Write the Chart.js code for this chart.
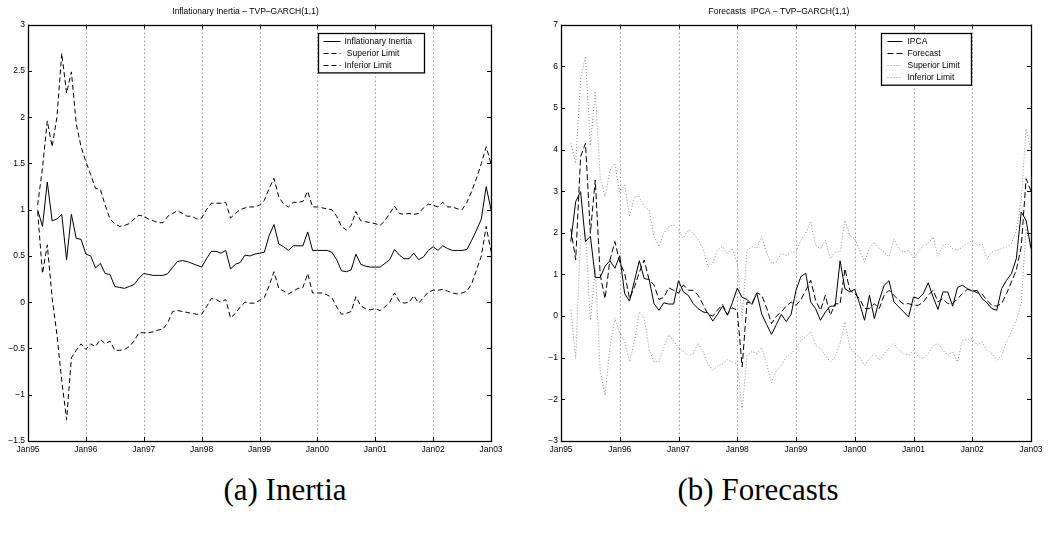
<!DOCTYPE html>
<html>
<head>
<meta charset="utf-8">
<script src="https://cdn.jsdelivr.net/npm/chart.js@4.4.0/dist/chart.umd.min.js"></script>
<style>
    body { margin: 0; background: #fff; width: 1054px; height: 533px; position: relative; overflow: hidden; }
    .painel { position: absolute; top: 0; width: 527px; height: 470px; }
    #painelInercia { left: 0; }
    #painelPrevisao { left: 527px; }
    .legenda {
        position: absolute; top: 471px; height: 38px; line-height: 38px;
        font-family: "Liberation Serif", serif; font-size: 31px; color: #000;
        text-align: center; width: 300px;
    }
    #legendaA { left: 135px; }
    #legendaB { left: 608px; }
</style>
</head>
<body>
<div class="painel" id="painelInercia"><canvas id="chartInercia"></canvas></div>
<div class="painel" id="painelPrevisao"><canvas id="chartPrevisao"></canvas></div>
<div class="legenda" id="legendaA">(a) Inertia</div>
<div class="legenda" id="legendaB">(b) Forecasts</div>

<script>
// meses contados a partir de Jan95 (0) ate Jan03 (96); as series comecam em Mar95
const PRIMEIRO_MES = 2;
const rotulosX = ['Jan95', 'Jan96', 'Jan97', 'Jan98', 'Jan99', 'Jan00', 'Jan01', 'Jan02', 'Jan03'];

// painel (a) - inercia inflacionaria
const inercia = [
    1.00, 0.82, 1.30, 0.88, 0.90, 0.95, 0.46, 0.95, 0.69, 0.68,
    0.52, 0.50, 0.37, 0.42, 0.31, 0.30, 0.17, 0.16, 0.15, 0.17, 0.19, 0.26,
    0.31, 0.30, 0.29, 0.29, 0.29, 0.31, 0.38, 0.44, 0.45, 0.44, 0.42, 0.40,
    0.38, 0.47, 0.55, 0.55, 0.53, 0.56, 0.36, 0.41, 0.43, 0.51, 0.50, 0.52,
    0.53, 0.54, 0.72, 0.84, 0.63, 0.60, 0.56, 0.61, 0.61, 0.61, 0.76, 0.56,
    0.56, 0.56, 0.56, 0.54, 0.46, 0.34, 0.33, 0.35, 0.52, 0.41, 0.39, 0.38,
    0.38, 0.38, 0.42, 0.46, 0.57, 0.51, 0.47, 0.47, 0.53, 0.46, 0.49, 0.56,
    0.60, 0.56, 0.61, 0.58, 0.56, 0.56, 0.56, 0.57, 0.67, 0.78, 0.90, 1.25,
    1.00
];
const inerciaSup = [
    1.05, 1.45, 1.96, 1.68, 2.00, 2.69, 2.26, 2.49, 1.93, 1.68,
    1.52, 1.38, 1.23, 1.22, 1.05, 0.90, 0.85, 0.82, 0.83, 0.85, 0.90, 0.94,
    0.93, 0.90, 0.88, 0.86, 0.86, 0.93, 0.96, 0.99, 0.96, 0.93, 0.93, 0.90,
    0.91, 1.00, 1.07, 1.07, 1.07, 1.08, 0.91, 0.96, 1.00, 1.02, 1.03, 1.03,
    1.05, 1.10, 1.23, 1.34, 1.14, 1.06, 1.03, 1.08, 1.08, 1.09, 1.20, 1.03,
    1.03, 1.02, 1.01, 1.00, 0.93, 0.82, 0.78, 0.83, 0.98, 0.88, 0.87, 0.86,
    0.85, 0.83, 0.88, 0.96, 1.04, 0.96, 0.95, 0.96, 0.95, 0.96, 1.02, 1.06,
    1.05, 1.03, 1.08, 1.03, 1.03, 1.01, 1.00, 1.08, 1.20, 1.34, 1.50, 1.68,
    1.50
];
const inerciaInf = [
    0.98, 0.31, 0.62, 0.05, -0.35, -0.85, -1.27, -0.60, -0.52, -0.45,
    -0.51, -0.45, -0.48, -0.40, -0.45, -0.42, -0.52, -0.52, -0.51, -0.48, -0.42, -0.33,
    -0.33, -0.33, -0.32, -0.30, -0.29, -0.22, -0.10, -0.09, -0.10, -0.11, -0.12, -0.13,
    -0.13, -0.05, 0.04, 0.03, 0.00, 0.03, -0.17, -0.12, -0.05, 0.00, -0.01, -0.01,
    0.02, 0.05, 0.18, 0.33, 0.15, 0.12, 0.09, 0.12, 0.15, 0.16, 0.31, 0.10,
    0.10, 0.10, 0.08, 0.05, -0.05, -0.13, -0.12, -0.10, 0.06, -0.04, -0.07, -0.08,
    -0.07, -0.09, -0.05, 0.00, 0.10, 0.01, -0.01, 0.00, 0.07, -0.01, 0.05, 0.11,
    0.13, 0.13, 0.14, 0.12, 0.10, 0.09, 0.10, 0.12, 0.20, 0.35, 0.50, 0.82,
    0.55
];

// painel (b) - IPCA e previsoes
const ipca = [
    1.79, 2.75, 2.99, 1.79, 1.92, 0.93, 0.93, 1.20, 1.33, 1.15,
    1.45, 0.54, 0.36, 0.85, 1.33, 0.90, 0.88, 0.30, 0.14, 0.32, 0.29, 0.29,
    0.85, 0.58, 0.50, 0.30, 0.18, 0.10, 0.08, -0.12, 0.05, 0.24, 0.02, 0.32,
    0.67, 0.45, 0.40, 0.28, 0.55, 0.05, -0.20, -0.44, -0.20, 0.04, -0.13, 0.04,
    0.62, 0.95, 1.03, 0.34, 0.18, -0.10, 0.10, 0.24, 0.24, 1.33, 0.66, 0.58,
    0.64, 0.30, -0.10, 0.50, -0.06, 0.38, 0.74, 0.85, 0.34, 0.22, 0.10, -0.02,
    0.46, 0.42, 0.54, 0.80, 0.46, 0.16, 0.58, 0.58, 0.24, 0.69, 0.74, 0.66,
    0.60, 0.62, 0.42, 0.32, 0.18, 0.14, 0.66, 0.86, 1.02, 1.38, 2.50, 2.30,
    1.62
];
const previsao = [
    2.10, 1.35, 3.83, 4.15, 1.99, 3.27, 1.00, 0.42, 1.35, 1.79,
    1.30, 1.03, 0.42, 0.70, 1.05, 1.35, 0.87, 0.75, 0.40, 0.45, 0.68, 0.62,
    0.55, 0.75, 0.62, 0.62, 0.50, 0.28, 0.05, 0.00, 0.15, 0.28, 0.04, 0.20,
    0.14, -1.22, 0.34, 0.30, 0.56, 0.50, 0.20, -0.18, 0.00, 0.10, 0.24, 0.34,
    0.26, 0.40, 0.62, 0.86, 0.38, 0.14, 0.50, 0.02, 0.30, 0.29, 1.14, 0.62,
    0.54, 0.42, 0.18, 0.18, 0.30, 0.18, 0.50, 0.62, 0.50, 0.38, 0.29, 0.30,
    0.26, 0.26, 0.34, 0.50, 0.62, 0.34, 0.42, 0.30, 0.30, 0.42, 0.54, 0.64,
    0.62, 0.56, 0.53, 0.38, 0.26, 0.24, 0.30, 0.54, 0.82, 1.10, 1.66, 3.30,
    3.00
];
const previsaoSup = [
    4.15, 3.67, 5.70, 6.24, 4.10, 5.40, 3.35, 2.87, 3.50, 3.67,
    2.95, 3.15, 2.39, 2.87, 2.87, 2.63, 2.55, 1.91, 1.67, 1.99, 2.15, 2.19,
    2.07, 1.87, 2.07, 1.99, 1.83, 1.63, 1.19, 1.27, 1.59, 1.67, 1.51, 1.63,
    1.27, -0.05, 1.59, 1.67, 1.63, 1.91, 1.51, 1.27, 1.31, 1.51, 1.46, 1.54,
    1.54, 1.82, 2.00, 2.26, 1.70, 1.62, 1.82, 1.38, 1.54, 1.54, 2.30, 1.94,
    1.86, 1.58, 1.30, 1.62, 1.78, 1.62, 1.54, 1.42, 1.86, 1.62, 1.54, 1.58,
    1.38, 1.54, 1.70, 1.74, 1.90, 1.44, 1.70, 1.74, 1.62, 1.58, 1.66, 1.74,
    1.82, 1.70, 1.74, 1.38, 1.54, 1.58, 1.62, 1.66, 1.74, 2.06, 2.80, 4.50,
    4.00
];
const previsaoInf = [
    0.15, -1.02, 1.95, 2.00, -0.10, 1.15, -1.30, -1.90, -0.75, -0.05,
    -0.40, -0.60, -1.10, -0.60, 0.10, -0.05, -0.80, -1.10, -1.10, -0.75, -0.45, -0.60,
    -0.75, -0.85, -0.95, -0.90, -0.65, -0.85, -1.15, -1.30, -1.20, -1.15, -1.05, -1.10,
    -1.15, -2.25, -0.95, -0.85, -0.90, -0.75, -1.15, -1.60, -1.30, -1.20, -0.98, -0.90,
    -0.78, -0.58, -0.50, -0.38, -0.70, -0.78, -0.94, -1.10, -0.98, -0.66, -0.14, -0.74,
    -0.90, -0.98, -1.18, -1.02, -0.90, -1.06, -0.90, -0.78, -0.66, -0.82, -0.90, -0.94,
    -0.82, -0.98, -1.02, -0.90, -0.70, -0.66, -0.82, -0.94, -0.86, -1.10, -0.58, -0.56,
    -0.54, -0.70, -0.62, -0.82, -0.90, -1.06, -0.94, -0.62, -0.38, -0.10, 0.30, 2.10,
    1.60
];

const FONTE = '"Liberation Sans", Arial, sans-serif';

function pontos(serie) {
    return serie.map((v, i) => ({ x: PRIMEIRO_MES + i, y: v }));
}

// grade vertical pontilhada nos meses de janeiro
const gradePontilhada = {
    id: 'gradePontilhada',
    beforeDatasetsDraw(chart) {
        const ctx = chart.ctx;
        const a = chart.chartArea;
        const sx = chart.scales.x;
        ctx.save();
        ctx.strokeStyle = '#6e6e6e';
        ctx.lineWidth = 1;
        ctx.setLineDash([1, 3]);
        ctx.beginPath();
        sx.ticks.forEach(t => {
            const px = Math.round(sx.getPixelForValue(t.value)) + 0.5;
            ctx.moveTo(px, a.top);
            ctx.lineTo(px, a.bottom);
        });
        ctx.stroke();
        ctx.restore();
    }
};

// moldura preta com marcas de escala para dentro, como no matlab
const molduraMatlab = {
    id: 'molduraMatlab',
    afterDatasetsDraw(chart) {
        const ctx = chart.ctx;
        const a = chart.chartArea;
        const sx = chart.scales.x;
        const sy = chart.scales.y;
        ctx.save();
        ctx.strokeStyle = '#000';
        ctx.lineWidth = 1;
        ctx.beginPath();
        sx.ticks.forEach(t => {
            const px = Math.round(sx.getPixelForValue(t.value)) + 0.5;
            ctx.moveTo(px, a.bottom); ctx.lineTo(px, a.bottom - 4);
            ctx.moveTo(px, a.top); ctx.lineTo(px, a.top + 4);
        });
        sy.ticks.forEach(t => {
            const py = Math.round(sy.getPixelForValue(t.value)) + 0.5;
            ctx.moveTo(a.left, py); ctx.lineTo(a.left + 4, py);
            ctx.moveTo(a.right, py); ctx.lineTo(a.right - 4, py);
        });
        ctx.stroke();
        ctx.lineWidth = 1.3;
        ctx.strokeRect(Math.round(a.left) + 0.5, Math.round(a.top) + 0.5,
            Math.round(a.right - a.left), Math.round(a.bottom - a.top));
        ctx.restore();
    }
};

// caixa de legenda dentro da area do grafico
const legendaMatlab = {
    id: 'legendaMatlab',
    afterDraw(chart, args, opts) {
        const ctx = chart.ctx;
        const a = chart.chartArea;
        const itens = chart.data.datasets;
        const h = itens.length * 12.3 + 2.5;
        const x0 = Math.round(a.right - opts.direita - opts.largura) + 0.5;
        const y0 = Math.round(a.top + 8) + 0.5;
        ctx.save();
        ctx.fillStyle = '#fff';
        ctx.fillRect(x0, y0, opts.largura, h);
        ctx.strokeStyle = '#000';
        ctx.lineWidth = 1.3;
        ctx.strokeRect(x0, y0, opts.largura, h);
        ctx.font = '8.5px ' + FONTE;
        ctx.textBaseline = 'middle';
        itens.forEach((d, i) => {
            const y = Math.round(y0 + 7 + i * 12.3) + 0.5;
            ctx.strokeStyle = d.borderColor;
            ctx.lineWidth = d.borderWidth;
            ctx.setLineDash(d.borderDash || []);
            ctx.beginPath();
            ctx.moveTo(x0 + opts.amostra[0], y);
            ctx.lineTo(x0 + opts.amostra[1], y);
            ctx.stroke();
            ctx.setLineDash([]);
            ctx.fillStyle = '#000';
            ctx.fillText(d.label, x0 + 26, y);
        });
        ctx.restore();
    }
};

function criarGrafico(idCanvas, titulo, datasets, eixoY, margemDir, larguraEixoY, legenda) {
    return new Chart(document.getElementById(idCanvas), {
        type: 'line',
        data: { datasets: datasets },
        options: {
            responsive: true,
            maintainAspectRatio: false,
            animation: false,
            layout: { padding: { left: 0, right: margemDir, top: 0, bottom: 0 } },
            elements: { point: { radius: 0 }, line: { tension: 0 } },
            scales: {
                x: {
                    type: 'linear',
                    min: 0,
                    max: 96,
                    afterFit: (scale) => { scale.height = 29; },
                    ticks: {
                        stepSize: 12,
                        padding: 4,
                        color: '#000',
                        font: { family: FONTE, size: 8.5 },
                        maxRotation: 0,
                        autoSkip: false,
                        callback: (value) => rotulosX[value / 12]
                    },
                    grid: { display: false, drawTicks: false },
                    border: { display: false }
                },
                y: {
                    min: eixoY.min,
                    max: eixoY.max,
                    afterFit: (scale) => { scale.width = larguraEixoY; },
                    ticks: {
                        stepSize: eixoY.passo,
                        padding: 3,
                        color: '#000',
                        font: { family: FONTE, size: 8.5 },
                        callback: (value) => String(Math.round(value * 10) / 10).replace('-', '\u2212')
                    },
                    grid: { display: false, drawTicks: false },
                    border: { display: false }
                }
            },
            plugins: {
                legend: { display: false },
                tooltip: { enabled: false },
                title: {
                    display: true,
                    text: titulo,
                    color: '#000',
                    font: { family: FONTE, size: 8.5, weight: 'normal' },
                    padding: { top: 7, bottom: 7.5 }
                },
                legendaMatlab: legenda
            }
        },
        plugins: [gradePontilhada, molduraMatlab, legendaMatlab]
    });
}

criarGrafico('chartInercia', 'Inflationary Inertia \u2013 TVP\u2013GARCH(1,1)', [
    { label: 'Inflationary Inertia', data: pontos(inercia), borderColor: '#000', borderWidth: 1 },
    { label: ' Superior Limit', data: pontos(inerciaSup), borderColor: '#000', borderWidth: 1, borderDash: [5, 3] },
    { label: 'Inferior Limit', data: pontos(inerciaInf), borderColor: '#000', borderWidth: 1, borderDash: [5, 3] }
], { min: -1.5, max: 3, passo: 0.5 }, 36, 28, { direita: 67, largura: 106, amostra: [5, 22] });

criarGrafico('chartPrevisao', 'Forecasts  IPCA \u2013 TVP\u2013GARCH(1,1)', [
    { label: 'IPCA', data: pontos(ipca), borderColor: '#000', borderWidth: 1 },
    { label: 'Forecast', data: pontos(previsao), borderColor: '#000', borderWidth: 1, borderDash: [6, 3] },
    { label: 'Superior Limit', data: pontos(previsaoSup), borderColor: '#8c8c8c', borderWidth: 1, borderDash: [1, 2] },
    { label: 'Inferior Limit', data: pontos(previsaoInf), borderColor: '#8c8c8c', borderWidth: 1, borderDash: [1, 2] }
], { min: -3, max: 7, passo: 1 }, 23, 34, { direita: 60, largura: 90, amostra: [6, 21] });
</script>
</body>
</html>
